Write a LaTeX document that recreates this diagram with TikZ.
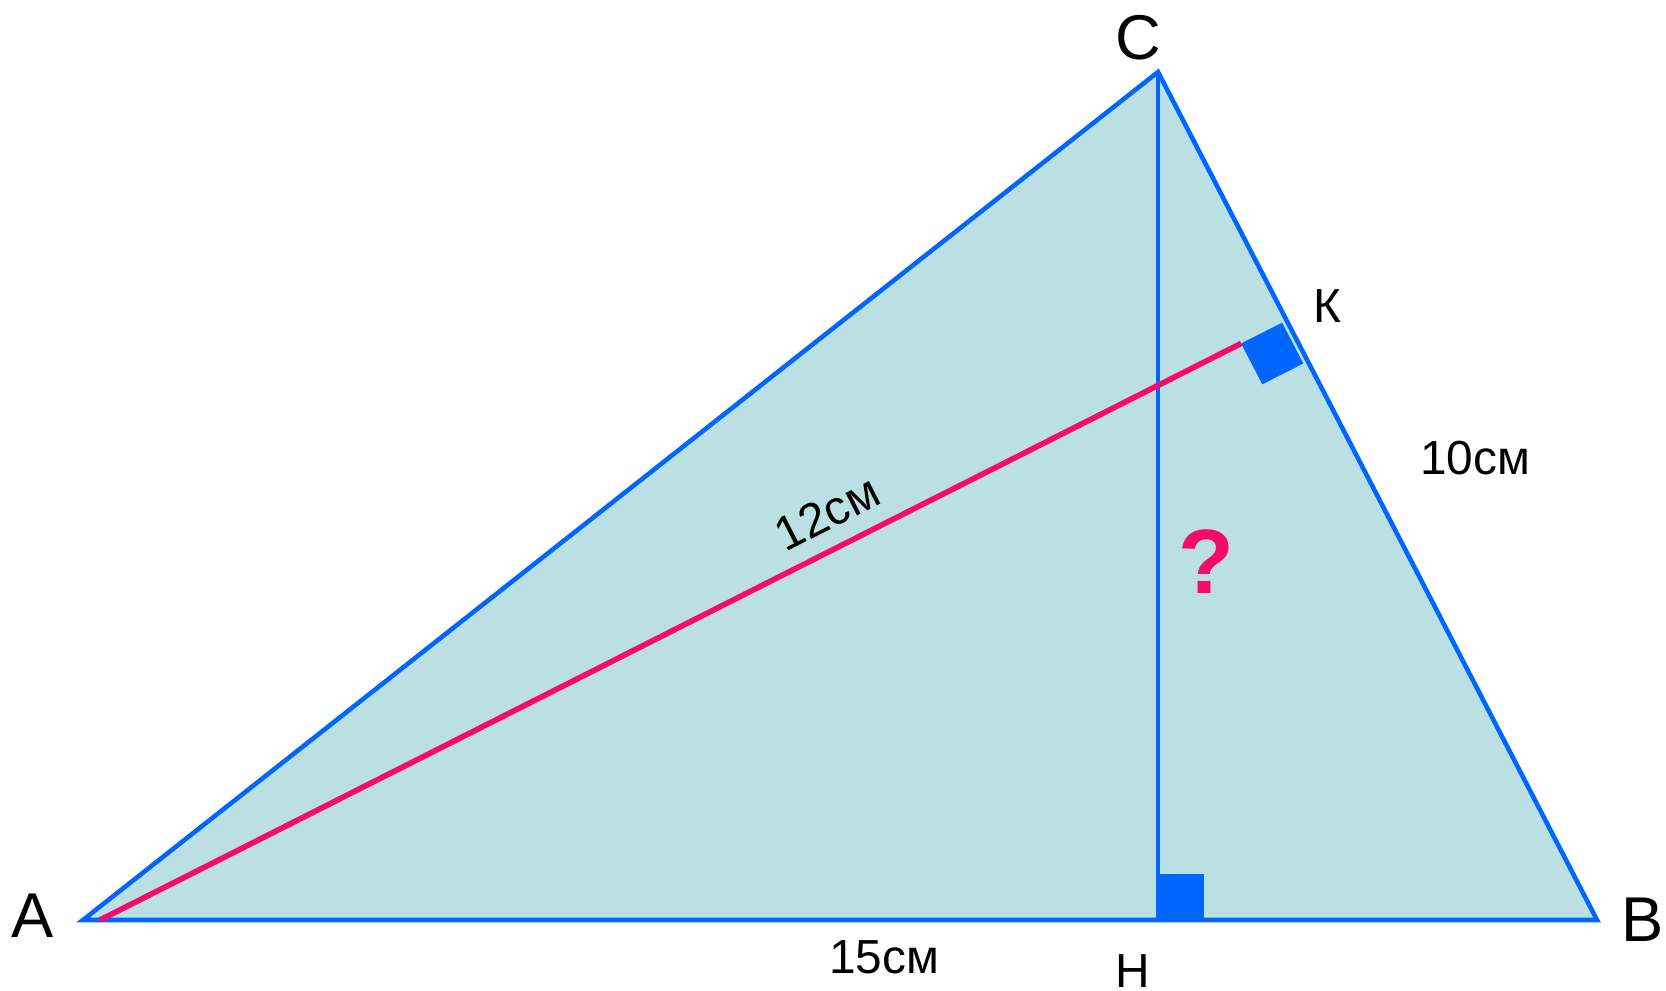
\documentclass[tikz,border=0pt]{standalone}
\usepackage{fontspec}
\setmainfont{Liberation Sans}
\usetikzlibrary{calc}
\definecolor{ln}{HTML}{0066FF}
\definecolor{tf}{HTML}{BAE0E3}
\definecolor{rd}{HTML}{F80A6C}
\tikzset{
  tri/.style={draw=ln,fill=tf,line width=1.3pt},
  alt/.style={draw=ln,line width=1.4pt},
  hgt/.style={draw=rd,line width=1.6pt},
  rt/.style={fill=ln},
  vx/.style={font=\fontsize{18}{20}\selectfont},
  lb/.style={font=\fontsize{13.6}{15}\selectfont},
  qm/.style={font=\fontsize{26}{28}\selectfont\bfseries,text=rd},
}
\begin{document}
\begin{tikzpicture}
\useasboundingbox (0,0) rectangle (16.66,9.91);
% ---- triangle ABC
\coordinate (A) at (0.83,0.71); \coordinate (B) at (15.97,0.71);
\coordinate (C) at (11.58,9.19); \coordinate (H) at (11.58,0.71);
\coordinate (Ap) at (1.00,0.71);
\coordinate (K) at ($(C)!0.293!(B)$);
\draw[tri] (A)--(B)--(C)--cycle;
% ---- altitude CH
\fill[rt] (H) rectangle ++(0.46,0.46);
\draw[alt] (C)--(H);
% ---- altitude AK, the mark sits a little inside CB
\coordinate (k0) at ($(K)!0.05cm!(Ap)$);
\coordinate (k1) at ($(k0)!0.46cm!(Ap)$);
\coordinate (kb) at ($(K)!0.46cm!(B)$);
\coordinate (k2) at ($(k0)+(kb)-(K)$);
\draw[hgt] (Ap)--(k1);
\fill[rt] (k0)--(k1)--($(k1)+(k2)-(k0)$)--(k2)--cycle;
% ---- labels
\node[vx] (lA) at (0.33,0.75) {A};
\node[vx] (lB) at (16.43,0.71) {B};
\node[vx] (lC) at (11.38,9.53) {C};
\node[lb] (lK) at (13.27,6.85) {К};
\node[lb] (lH) at (11.33,0.20) {H};
\node[lb] (l15) at (8.84,0.34) {15см};
\node[lb] (l10) at (14.75,5.33) {10см};
\node[lb,rotate=27] (l12) at (8.27,4.78) {12см};
\node[qm] (q) at (12.06,4.29) {?};
\end{tikzpicture}
\end{document}
